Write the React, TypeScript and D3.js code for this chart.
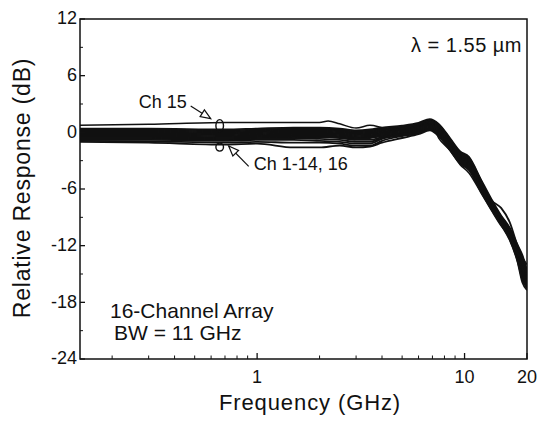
import React from "react";
import * as d3 from "d3";

// frequency grid (GHz) shared by the bundle of channels
const FREQ = [0.14, 0.3, 0.7, 1, 1.5, 2, 2.5, 3, 3.5, 4, 5, 6, 6.8, 7.5, 8.5, 9.5, 10.5, 12, 13.5, 15, 16.5, 18, 19, 20];

// relative response (dB) for Ch 1-14, 16
const BUNDLE = [
  [0.4, 0.4, 0.3, 0.4, 0.5, 0.5, 0.4, 0.2, 0.3, 0.5, 0.7, 1.0, 1.4, 0.9, -0.6, -2.0, -2.6, -5.0, -7.1, -8.8, -10.1, -11.9, -13.0, -14.6],
  [0.3, 0.3, 0.2, 0.3, 0.4, 0.4, 0.3, 0.1, 0.2, 0.4, 0.6, 0.9, 1.3, 0.8, -0.7, -2.1, -2.7, -5.1, -7.2, -8.0, -9.5, -12.0, -13.2, -14.8],
  [0.2, 0.2, 0.1, 0.2, 0.3, 0.3, 0.2, 0.0, 0.1, 0.3, 0.5, 0.8, 1.2, 0.7, -0.8, -2.2, -2.8, -5.2, -7.3, -8.9, -10.2, -12.2, -13.4, -14.9],
  [0.1, 0.1, 0.0, 0.1, 0.2, 0.2, 0.1, -0.1, 0.0, 0.2, 0.4, 0.8, 1.2, 0.6, -0.9, -2.3, -2.9, -5.3, -7.3, -9.0, -10.3, -12.3, -13.6, -15.0],
  [0.0, 0.0, -0.1, 0.0, 0.1, 0.1, 0.0, -0.2, -0.1, 0.1, 0.3, 0.7, 1.1, 0.5, -1.0, -2.4, -3.0, -5.4, -7.4, -9.0, -10.4, -12.5, -13.8, -15.2],
  [-0.1, -0.1, -0.2, -0.1, 0.0, 0.0, -0.1, -0.3, -0.2, 0.0, 0.3, 0.6, 1.0, 0.4, -1.1, -2.5, -3.1, -5.5, -7.5, -9.1, -10.5, -12.6, -14.0, -15.4],
  [-0.2, -0.2, -0.3, -0.2, -0.1, -0.1, -0.2, -0.4, -0.3, -0.1, 0.2, 0.5, 0.9, 0.3, -1.2, -2.6, -3.2, -5.6, -7.6, -9.2, -10.6, -12.8, -14.2, -15.6],
  [-0.3, -0.3, -0.4, -0.3, -0.2, -0.2, -0.3, -0.5, -0.4, -0.2, 0.1, 0.5, 0.9, 0.3, -1.2, -2.6, -3.3, -5.6, -7.6, -9.3, -10.7, -12.9, -14.4, -15.7],
  [-0.4, -0.4, -0.5, -0.4, -0.3, -0.3, -0.4, -0.6, -0.5, -0.3, 0.0, 0.4, 0.8, 0.2, -1.3, -2.7, -3.4, -5.7, -7.7, -9.3, -10.8, -13.0, -14.6, -15.8],
  [-0.5, -0.5, -0.6, -0.5, -0.4, -0.4, -0.5, -0.7, -0.6, -0.4, -0.1, 0.3, 0.7, 0.1, -1.4, -2.8, -3.5, -5.8, -7.8, -9.4, -10.9, -13.1, -14.8, -16.0],
  [-0.6, -0.6, -0.7, -0.6, -0.5, -0.5, -0.6, -0.8, -0.8, -0.5, -0.2, 0.2, 0.6, 0.0, -1.5, -2.9, -3.6, -5.9, -7.9, -9.5, -11.0, -13.2, -15.0, -16.1],
  [-0.7, -0.7, -0.8, -0.7, -0.6, -0.7, -0.8, -1.0, -1.0, -0.6, -0.2, 0.1, 0.5, -0.1, -1.6, -3.0, -3.7, -6.0, -7.9, -9.5, -11.1, -13.3, -15.2, -16.3],
  [-0.8, -0.8, -0.9, -0.8, -0.8, -0.9, -1.0, -1.2, -1.2, -0.7, -0.3, 0.0, 0.4, -0.2, -1.7, -3.1, -3.8, -6.1, -8.0, -9.6, -11.2, -13.4, -15.4, -16.4],
  [-0.9, -0.95, -1.1, -1.0, -1.1, -1.1, -1.2, -1.4, -1.4, -0.9, -0.4, -0.1, 0.3, -0.3, -1.8, -3.2, -3.9, -6.2, -8.1, -9.7, -11.3, -13.6, -15.6, -16.5],
  [-1.0, -1.1, -1.3, -1.2, -1.6, -1.6, -1.4, -1.6, -1.5, -1.1, -0.6, -0.2, 0.2, -0.4, -1.9, -3.3, -4.0, -6.3, -8.2, -9.8, -11.4, -13.7, -15.9, -16.7],
];

// Ch 15 on its own grid
const FREQ_CH15 = [0.14, 0.3, 0.7, 1, 1.5, 2, 2.2, 2.5, 3, 3.5, 4, 4.5, 5, 6, 6.8, 7.5, 8.5, 9.5, 10.5, 12, 13.5, 15, 16.5, 18, 19, 20];
const CH15 = [0.75, 0.85, 1.05, 1.05, 1.05, 1.05, 1.2, 0.9, 0.45, 0.75, 0.5, 0.25, 0.4, 0.9, 1.2, -0.6, -1.9, -3.4, -4.3, -6.4, -8.3, -9.9, -11.0, -12.8, -13.3, -14.0];

const Y_TICKS = [12, 6, 0, -6, -12, -18, -24];
const Y_MINOR = [9, 3, -3, -9, -15, -21];
const X_TICKS = [1, 10, 20];
const X_MINOR = [0.2, 0.3, 0.4, 0.5, 0.6, 0.7, 0.8, 0.9, 2, 3, 4, 5, 6, 7, 8, 9];

const FONT = "'Liberation Sans', Arial, Helvetica, sans-serif";

function arrowHead(tx: number, ty: number, fx: number, fy: number, len = 10, half = 4) {
  const a = Math.atan2(ty - fy, tx - fx);
  const bx = tx - len * Math.cos(a);
  const by = ty - len * Math.sin(a);
  const px = -Math.sin(a) * half;
  const py = Math.cos(a) * half;
  return `M${tx},${ty}L${bx + px},${by + py}L${bx - px},${by - py}Z`;
}

export default function App() {
  const left = 80, right = 527, top = 19, bottom = 359;
  const x = d3.scaleLog().domain([0.14, 20]).range([left, right]);
  const y = d3.scaleLinear().domain([-24, 12]).range([bottom, top]);

  const line = d3
    .line<[number, number]>()
    .x((d) => x(d[0]))
    .y((d) => y(d[1]))
    .curve(d3.curveMonotoneX);

  // markers where the annotations point
  const fm = 0.66;
  const mx = x(fm);
  const upY = y(0.6);
  const loY = y(-1.35);

  // Ch 15 arrow
  const a1 = { fx: mx - 29, fy: y(2.8), tx: mx - 9, ty: y(1.45) };
  // Ch 1-14, 16 arrow
  const a2 = { fx: mx + 29, fy: y(-3.6), tx: mx + 9, ty: y(-1.45) };

  return (
    <svg
      width={540}
      height={421}
      style={{ position: "absolute", left: 0, top: 0, background: "#fff" }}
      fontFamily={FONT}
    >
      <rect x={0} y={0} width={540} height={421} fill="#fff" />
      <defs>
        <clipPath id="plot">
          <rect x={left} y={top} width={right - left} height={bottom - top} />
        </clipPath>
      </defs>

      {/* curves */}
      <g clipPath="url(#plot)" fill="none" stroke="#111">
        {BUNDLE.map((vals, i) => (
          <path
            key={i}
            d={line(FREQ.map((f, j) => [f, vals[j]]) as [number, number][]) || ""}
            strokeWidth={1.8}
          />
        ))}
        <path
          d={line(FREQ_CH15.map((f, j) => [f, CH15[j]]) as [number, number][]) || ""}
          strokeWidth={1.5}
        />
      </g>

      {/* channel markers */}
      <ellipse cx={mx} cy={upY - 1} rx={3.8} ry={6} fill="none" stroke="#111" strokeWidth={1.4} />
      <ellipse cx={mx} cy={loY + 2} rx={3.8} ry={4} fill="none" stroke="#111" strokeWidth={1.4} />

      {/* frame */}
      <rect x={left} y={top} width={right - left} height={bottom - top} fill="none" stroke="#111" strokeWidth={1.5} />

      {/* y ticks */}
      {Y_TICKS.map((t) => (
        <g key={t}>
          <line x1={left} x2={left + 5} y1={y(t)} y2={y(t)} stroke="#111" strokeWidth={1.3} />
          <text x={left - 3} y={y(t)} dy="0.3em" textAnchor="end" fontSize={18} fill="#111">
            {t}
          </text>
        </g>
      ))}
      {Y_MINOR.map((t) => (
        <line key={t} x1={left} x2={left + 3} y1={y(t)} y2={y(t)} stroke="#111" strokeWidth={1} />
      ))}

      {/* x ticks */}
      {X_TICKS.map((t) => (
        <g key={t}>
          <line x1={x(t)} x2={x(t)} y1={bottom} y2={bottom - 6} stroke="#111" strokeWidth={1.3} />
          <text x={x(t)} y={bottom + 24} textAnchor="middle" fontSize={18} fill="#111">
            {t}
          </text>
        </g>
      ))}
      {X_MINOR.map((t) => (
        <line key={t} x1={x(t)} x2={x(t)} y1={bottom} y2={bottom - 3.5} stroke="#111" strokeWidth={1} />
      ))}

      {/* axis titles */}
      <text x={(218 + 402) / 2} y={410} textAnchor="middle" fontSize={22} letterSpacing={0.9} fill="#111">
        Frequency (GHz)
      </text>
      <text
        transform={`translate(30,188) rotate(-90)`}
        textAnchor="middle"
        fontSize={23}
        letterSpacing={0.8}
        fill="#111"
      >
        Relative Response (dB)
      </text>

      {/* annotations */}
      <text x={right - 5} y={52} textAnchor="end" fontSize={20} letterSpacing={0.5} fill="#111">
        λ = 1.55 µm
      </text>
      <text x={110} y={318} fontSize={21} fill="#111">
        16-Channel Array
      </text>
      <text x={114} y={340} fontSize={21} fill="#111">
        BW = 11 GHz
      </text>

      <text x={a1.fx - 52} y={a1.fy + 2} fontSize={18} fill="#111">
        Ch 15
      </text>
      <line x1={a1.fx} y1={a1.fy} x2={a1.tx} y2={a1.ty} stroke="#111" strokeWidth={1.2} />
      <path d={arrowHead(a1.tx, a1.ty, a1.fx, a1.fy)} fill="#fff" stroke="#111" strokeWidth={1.2} />

      <text x={a2.fx + 5} y={a2.fy + 4} fontSize={18} fill="#111">
        Ch 1-14, 16
      </text>
      <line x1={a2.fx} y1={a2.fy} x2={a2.tx} y2={a2.ty} stroke="#111" strokeWidth={1.2} />
      <path d={arrowHead(a2.tx, a2.ty, a2.fx, a2.fy)} fill="#fff" stroke="#111" strokeWidth={1.2} />
    </svg>
  );
}
